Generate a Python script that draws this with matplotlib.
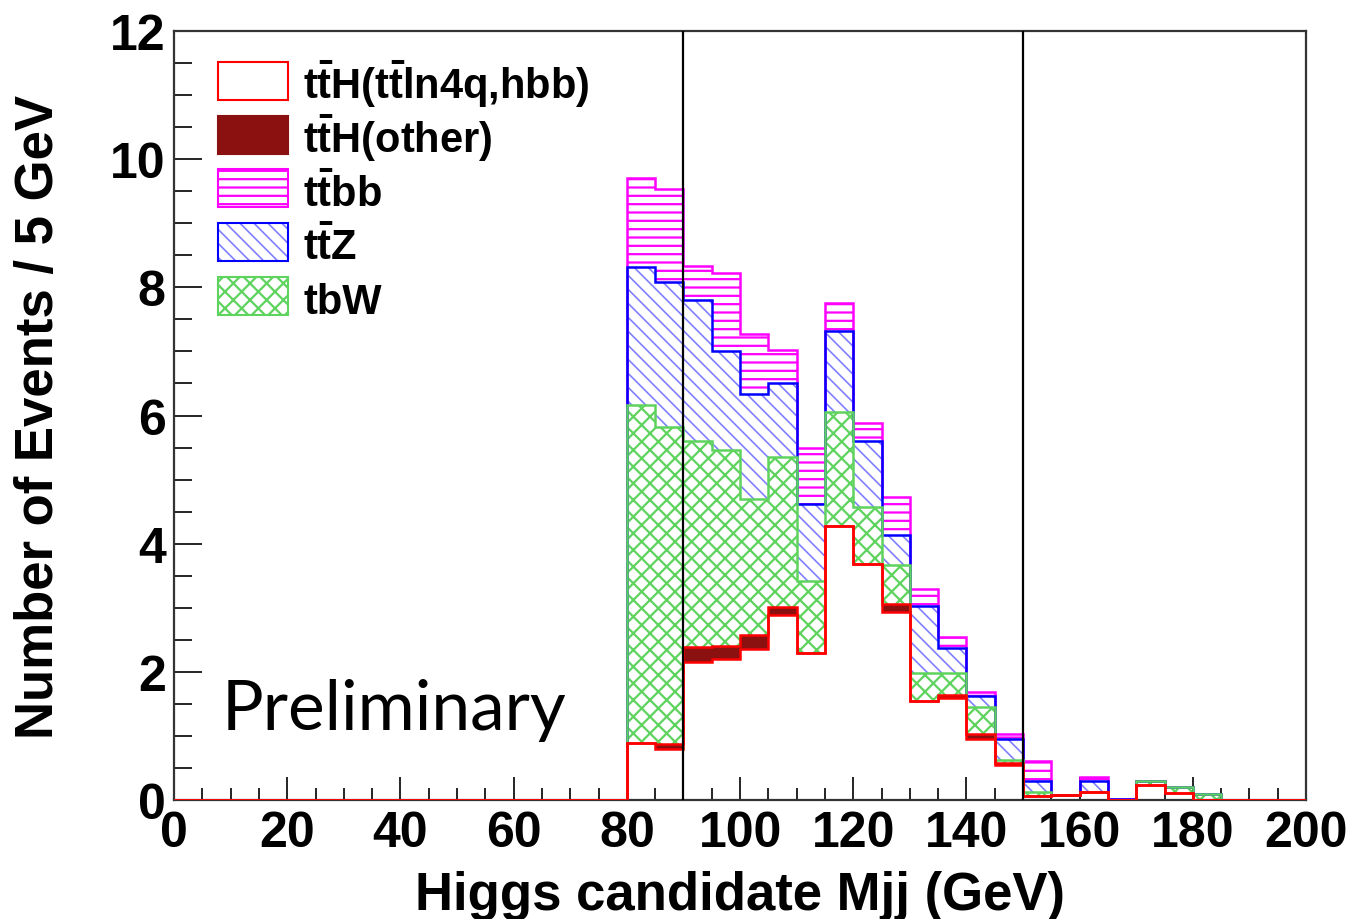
import numpy as np
import matplotlib.pyplot as plt
from matplotlib.patches import Rectangle
from matplotlib.collections import LineCollection
from matplotlib.ticker import MultipleLocator

plt.rcParams['font.family'] = ['Liberation Sans']
plt.rcParams['font.weight'] = 'bold'
plt.rcParams['mathtext.fontset'] = 'custom'
plt.rcParams['mathtext.rm'] = 'Liberation Sans:bold'
plt.rcParams['mathtext.bf'] = 'Liberation Sans:bold'
plt.rcParams['mathtext.it'] = 'Liberation Sans:bold'
plt.rcParams['hatch.linewidth'] = 1.6

# 5 GeV bins from 0 to 200
edges = np.arange(0, 205, 5)

# per-component contents (stacked bottom to top)
tth_signal = [0, 0, 0, 0, 0, 0, 0, 0, 0, 0, 0, 0, 0, 0, 0, 0,
              0.89, 0.80, 2.15, 2.20, 2.36, 2.88, 2.30, 4.28, 3.68, 2.93,
              1.54, 1.59, 0.96, 0.55, 0.07, 0.08, 0.12, 0.0, 0.23, 0.11,
              0, 0, 0, 0]
tth_other = [0, 0, 0, 0, 0, 0, 0, 0, 0, 0, 0, 0, 0, 0, 0, 0,
             0.0, 0.08, 0.24, 0.21, 0.22, 0.13, 0.0, 0.0, 0.0, 0.13,
             0.0, 0.05, 0.07, 0.03, 0, 0, 0, 0, 0, 0,
             0, 0, 0, 0]
tbw = [0, 0, 0, 0, 0, 0, 0, 0, 0, 0, 0, 0, 0, 0, 0, 0,
       5.27, 4.94, 3.22, 3.05, 2.12, 2.35, 1.12, 1.77, 0.89, 0.60,
       0.45, 0.35, 0.42, 0.05, 0.05, 0.0, 0.0, 0.0, 0.06, 0.10,
       0.09, 0, 0, 0]
ttz = [0, 0, 0, 0, 0, 0, 0, 0, 0, 0, 0, 0, 0, 0, 0, 0,
       2.15, 2.26, 2.19, 1.55, 1.63, 1.14, 1.20, 1.27, 1.04, 0.48,
       1.04, 0.38, 0.17, 0.33, 0.17, 0.0, 0.17, 0.02, 0, 0,
       0, 0, 0, 0]
ttbb = [0, 0, 0, 0, 0, 0, 0, 0, 0, 0, 0, 0, 0, 0, 0, 0,
        1.39, 1.46, 0.53, 1.22, 0.94, 0.52, 0.87, 0.43, 0.27, 0.59,
        0.26, 0.18, 0.07, 0.07, 0.32, 0.0, 0.07, 0.0, 0, 0,
        0, 0, 0, 0]

cuts = [90, 150]

RED = '#ff0000'
DARKRED = '#8b1111'
MAGENTA = '#ff00ff'
BLUE = '#0000ff'
LIGHTBLUE = '#8080ff'
GREEN = '#5ed35e'

# (values, fill, hatch, hatch colour, outline colour); hatch 'diag' = drawn by hand
stack = [
    (tth_signal, 'white', None, RED, RED),
    (tth_other, DARKRED, None, DARKRED, RED),
    (tbw, 'white', 'xx', GREEN, GREEN),
    (ttz, 'white', 'diag', LIGHTBLUE, BLUE),
    (ttbb, 'white', '--', MAGENTA, MAGENTA),
]

fig = plt.figure(figsize=(13.52, 9.2), dpi=100)
ax = fig.add_axes([0.1287, 0.1293, 0.8373, 0.8359])


def diag_hatch(clip, color, spacing_px=14, zorder=2):
    # ROOT-like 45 degree hatch (top-left to bottom-right), clipped to a patch
    bb = ax.get_window_extent()
    w, h = bb.width, bb.height
    du = spacing_px / w
    slope = h / w
    starts = np.arange(-slope - 0.1, 1.1, du)
    segs = [[(u, 1.0), (u + slope, 0.0)] for u in starts]
    lc = LineCollection(segs, colors=color, linewidths=1.2,
                        transform=ax.transAxes, zorder=zorder)
    ax.add_collection(lc)
    lc.set_clip_path(clip)


bottom = np.zeros(len(edges) - 1)
levels = []
for vals, face, hatch, hcol, lcol in stack:
    vals = np.array(vals, dtype=float)
    bars = ax.bar(edges[:-1], vals, width=5, bottom=bottom, align='edge',
                  facecolor=face, hatch=None if hatch == 'diag' else hatch,
                  edgecolor=hcol, linewidth=0)
    if hatch == 'diag':
        for b, v in zip(bars, vals):
            if v > 0:
                diag_hatch(b, hcol)
    bottom = bottom + vals
    levels.append((bottom.copy(), lcol))

# outlines, drawn from the top of the stack down
for cum, lcol in reversed(levels):
    ax.stairs(cum, edges, color=lcol, linewidth=1.8, baseline=0, zorder=3)

for c in cuts:
    ax.axvline(c, color='black', linewidth=1.6, zorder=4)

ax.set_xlim(0, 200)
ax.set_ylim(0, 12)
ax.xaxis.set_major_locator(MultipleLocator(20))
ax.xaxis.set_minor_locator(MultipleLocator(5))
ax.yaxis.set_major_locator(MultipleLocator(2))
ax.yaxis.set_minor_locator(MultipleLocator(0.5))
ax.tick_params(axis='both', which='both', direction='in', width=1.2,
               top=False, right=False, labelsize=36)
ax.tick_params(axis='x', which='major', length=16.5, pad=7)
ax.tick_params(axis='x', which='minor', length=8.5)
ax.tick_params(axis='y', which='major', length=20, pad=6)
ax.tick_params(axis='y', which='minor', length=13)
for s in ax.spines.values():
    s.set_linewidth(1.6)
    s.set_color('#333333')

ax.set_xlabel('Higgs candidate Mjj (GeV)', fontsize=38, fontweight='bold',
              labelpad=10)
ax.set_ylabel('Number of Events / 5 GeV', fontsize=38, fontweight='bold',
              labelpad=33)

# legend drawn by hand, ROOT style
legend_entries = [
    (r'$\mathbf{t\bar{t}H(t\bar{t}ln4q{,}hbb)}$', 'white', None, RED, RED),
    (r'$\mathbf{t\bar{t}H(other)}$', DARKRED, None, DARKRED, DARKRED),
    (r'$\mathbf{t\bar{t}bb}$', 'white', '--', MAGENTA, MAGENTA),
    (r'$\mathbf{t\bar{t}Z}$', 'white', 'diag', LIGHTBLUE, BLUE),
    ('tbW', 'white', 'xx', GREEN, GREEN),
]
leg_x, leg_top, leg_step = 0.0389, 0.960, 0.0699
box_w, box_h = 0.0618, 0.0494
for i, (label, face, hatch, hcol, lcol) in enumerate(legend_entries):
    y0 = leg_top - i * leg_step - box_h
    box = Rectangle((leg_x, y0), box_w, box_h, transform=ax.transAxes,
                    facecolor=face, hatch=None if hatch == 'diag' else hatch,
                    edgecolor=hcol, linewidth=0, zorder=5)
    ax.add_patch(box)
    if hatch == 'diag':
        diag_hatch(box, hcol, zorder=5.5)
    ax.add_patch(Rectangle((leg_x, y0), box_w, box_h, transform=ax.transAxes,
                           facecolor='none', edgecolor=lcol, linewidth=1.5,
                           zorder=6))
    ax.text(0.114, y0 + 0.002, label, transform=ax.transAxes, fontsize=30,
            fontweight='bold', va='baseline', ha='left')

ax.text(0.0424, 0.092, 'Preliminary', transform=ax.transAxes,
        fontsize=50, fontweight='normal', family='Lato', va='baseline')

fig.savefig('out.png', dpi=100)
